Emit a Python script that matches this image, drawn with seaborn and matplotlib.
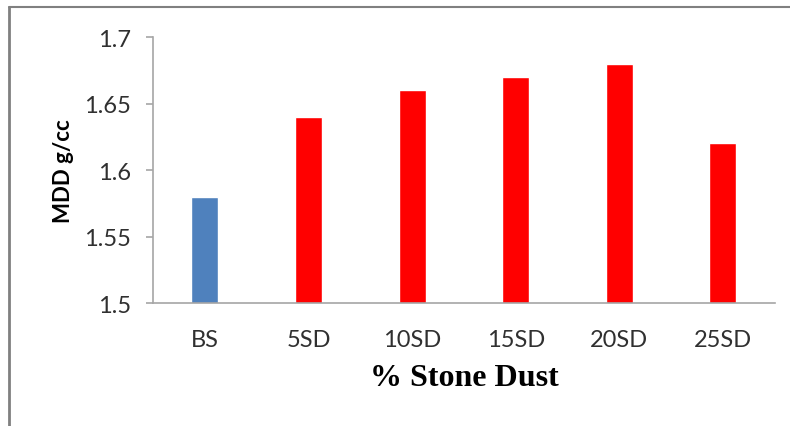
import matplotlib
matplotlib.use("Agg")
import matplotlib.pyplot as plt
import seaborn as sns
import pandas as pd
from matplotlib.lines import Line2D

categories = ["BS", "5SD", "10SD", "15SD", "20SD", "25SD"]
mdd = [1.58, 1.64, 1.66, 1.67, 1.68, 1.62]
bar_colors = ["#4F81BD", "#FF0000", "#FF0000", "#FF0000", "#FF0000", "#FF0000"]
yticks = [1.5, 1.55, 1.6, 1.65, 1.7]
ytick_labels = ["1.5", "1.55", "1.6", "1.65", "1.7"]

sns.set_theme(style="white")
plt.rcParams['font.family'] = ['Lato', 'DejaVu Sans']

df = pd.DataFrame({"cat": categories, "mdd": mdd})

fig = plt.figure(figsize=(7.9, 4.27), dpi=100)
ax = fig.add_axes([0.1937, 0.288, 0.787, 0.623])

sns.barplot(data=df, x="cat", y="mdd", hue="cat", palette=bar_colors,
            legend=False, width=0.26, ax=ax, saturation=1)

ax.set_ylim(1.5, 1.7)
ax.set_xlim(-0.5, 5.5)
ax.set_yticks(yticks)
ax.set_yticklabels(ytick_labels)

for s in ["top", "right"]:
    ax.spines[s].set_visible(False)
for s in ["left", "bottom"]:
    ax.spines[s].set_color("#A6A6A6")
    ax.spines[s].set_linewidth(1.2)

ax.tick_params(axis="y", which="major", left=True, length=5, width=1.2,
               color="#A6A6A6", labelsize=17, pad=11, labelcolor="#303030")
ax.tick_params(axis="x", bottom=False, length=0, labelsize=17, pad=19,
               labelcolor="#303030")

ax.set_xlabel("% Stone Dust", fontsize=23, fontweight="bold",
              family=["Liberation Serif"], color="black", labelpad=9)
ax.set_ylabel("MDD g/cc", fontsize=16, fontweight="bold", color="black", labelpad=7)

# outer chart frame lines (left and top)
fig.add_artist(Line2D([9/790, 9/790], [0, 1 - 8/427], transform=fig.transFigure,
                      color="#808080", linewidth=2))
fig.add_artist(Line2D([9/790, 1], [1 - 8/427, 1 - 8/427], transform=fig.transFigure,
                      color="#808080", linewidth=1.5))

fig.savefig("out.png", dpi=100)
